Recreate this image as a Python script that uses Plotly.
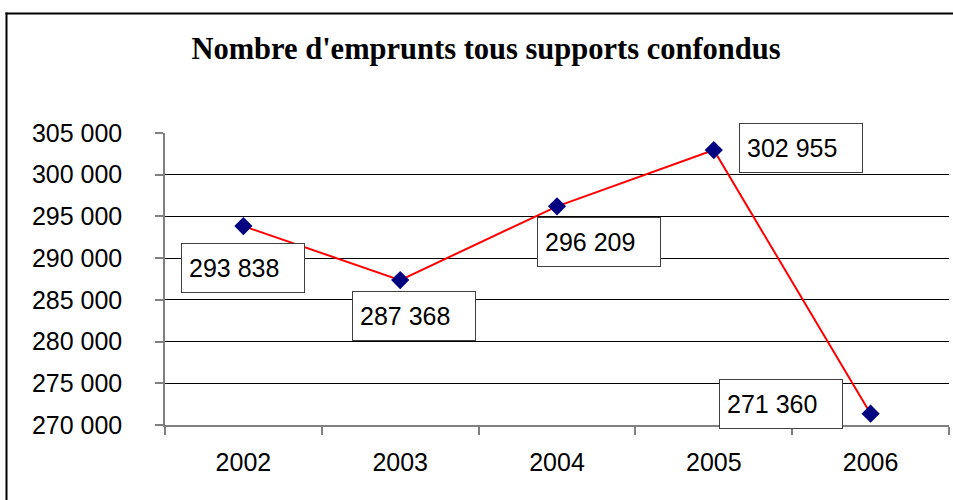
import plotly.graph_objects as go

# Loan counts per year, all media combined
years = ["2002", "2003", "2004", "2005", "2006"]
loans = [293838, 287368, 296209, 302955, 271360]

# Offsets (px) of each value box from its point
label_dx = [0, 14, 42, 87, -90]
label_dy = [-42, -36, -36, 2, 10]

W, H = 953, 500
ML, MR, MT, MB = 165, 4, 133, 75
PW, PH = W - ML - MR, H - MT - MB

xpos = list(range(len(years)))


def fmt(v):
    return f"{v:,}".replace(",", " ")


fig = go.Figure()
fig.add_trace(go.Scatter(
    x=xpos, y=loans, mode="lines+markers",
    line=dict(color="#FF0000", width=2),
    marker=dict(symbol="diamond", size=14, color="#000080",
                line=dict(color="#000080", width=0)),
    hoverinfo="skip", showlegend=False,
))

for xi, v, dx, dy in zip(xpos, loans, label_dx, label_dy):
    fig.add_annotation(
        x=xi, y=v, text=fmt(v), showarrow=False,
        xanchor="center", yanchor="middle", xshift=dx, yshift=dy,
        width=108, height=34, align="left", valign="middle",
        bgcolor="white", bordercolor="#404040", borderwidth=1, borderpad=7,
        font=dict(family="Liberation Sans, Arial", size=25, color="black"),
    )


# Outer chart frame: top and left edges (it runs past the page on the right and bottom)
def px_x(p):
    return (p - ML) / PW


def px_y(p):
    return (H - MB - p) / PH


fig.add_shape(type="line", xref="paper", yref="paper",
              x0=px_x(5.5), x1=px_x(970), y0=px_y(13.5), y1=px_y(13.5),
              line=dict(color="black", width=2), layer="below")
fig.add_shape(type="line", xref="paper", yref="paper",
              x0=px_x(6.5), x1=px_x(6.5), y0=px_y(12.5), y1=px_y(520),
              line=dict(color="black", width=2), layer="below")

fig.update_layout(
    width=W, height=H,
    margin=dict(l=ML, r=MR, t=MT, b=MB),
    paper_bgcolor="white", plot_bgcolor="white",
    separators=", ",
    title=dict(text="<b>Nombre d'emprunts tous supports confondus</b>",
               x=486 / W, xref="container", xanchor="center",
               y=1 - 38 / H, yref="container", yanchor="top",
               font=dict(family="Liberation Serif, Times New Roman", size=30.5,
                         color="black")),
    font=dict(family="Liberation Sans, Arial", size=25, color="black"),
)

fig.update_xaxes(
    range=[-0.5, len(years) - 0.5], tickvals=xpos, ticktext=years,
    ticks="", showline=True, linecolor="#808080", linewidth=1.5,
    showgrid=False, zeroline=False, ticklabelstandoff=14,
    minor=dict(tick0=-0.5, dtick=1, ticks="outside", ticklen=8,
               tickcolor="#808080", tickwidth=1.5, showgrid=False),
    tickfont=dict(family="Liberation Sans, Arial", size=25, color="black"),
)
fig.update_yaxes(
    range=[270000, 305000], dtick=5000, tickformat=",d",
    ticks="outside", ticklen=8, tickcolor="#808080", tickwidth=1.5,
    showline=True, linecolor="#808080", linewidth=1.5,
    showgrid=True, gridcolor="black", gridwidth=1, zeroline=False,
    ticklabelstandoff=28,
    tickfont=dict(family="Liberation Sans, Arial", size=25, color="black"),
)

fig.write_html("out.html")
